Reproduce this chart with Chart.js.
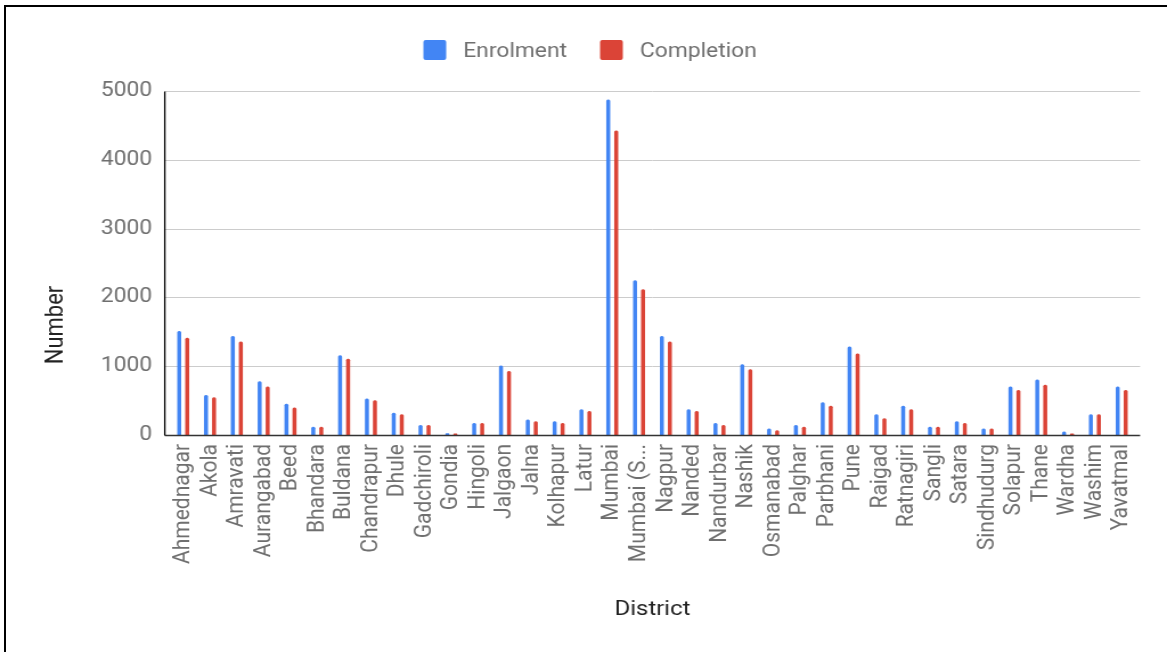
<!DOCTYPE html>
<html>
<head>
<meta charset="utf-8">
<title>Enrolment and Completion by District</title>
<script src="https://cdn.jsdelivr.net/npm/chart.js@4.4.1/dist/chart.umd.min.js"></script>
<style>
  html, body { margin: 0; padding: 0; background: #ffffff; width: 1167px; height: 652px; overflow: hidden; }
  /* chart is laid out at 1024px and widened to the 1167px page */
  #stage { position: absolute; left: 0; top: 0; width: 1024px; height: 652px; transform: scaleX(1.13965); transform-origin: 0 0; }
  #frame { position: absolute; left: 4px; top: 5px; width: 1300px; height: 800px; border-left: 2px solid #000; border-top: 2px solid #000; pointer-events: none; }
</style>
</head>
<body>
<div id="stage"><canvas id="chart" width="1024" height="652"></canvas></div>
<div id="frame"></div>
<script>
// District-wise enrolment and completion counts
const districts = [
  'Ahmednagar', 'Akola', 'Amravati', 'Aurangabad', 'Beed', 'Bhandara', 'Buldana',
  'Chandrapur', 'Dhule', 'Gadchiroli', 'Gondia', 'Hingoli', 'Jalgaon', 'Jalna',
  'Kolhapur', 'Latur', 'Mumbai', 'Mumbai (Suburban)', 'Nagpur', 'Nanded', 'Nandurbar',
  'Nashik', 'Osmanabad', 'Palghar', 'Parbhani', 'Pune', 'Raigad', 'Ratnagiri',
  'Sangli', 'Satara', 'Sindhudurg', 'Solapur', 'Thane', 'Wardha', 'Washim', 'Yavatmal'
];
const enrolment = [
  1510, 580, 1440, 780, 455, 120, 1160,
  530, 325, 145, 25, 175, 1010, 225,
  200, 375, 4875, 2250, 1440, 375, 175,
  1030, 95, 145, 475, 1285, 300, 425,
  120, 200, 95, 705, 805, 50, 300, 705
];
const completion = [
  1415, 550, 1360, 705, 400, 120, 1110,
  505, 300, 145, 20, 175, 930, 200,
  175, 350, 4425, 2120, 1360, 350, 145,
  955, 70, 120, 425, 1185, 245, 375,
  120, 175, 95, 655, 730, 20, 300, 655
];
const yTickValues = [0, 1000, 2000, 3000, 4000, 5000];
const seriesNames = ['Enrolment', 'Completion'];
const xTitle = 'District';
const yTitle = 'Number';

const BLUE = '#4285F4';
const RED = '#DB4437';
const TICK_GREY = '#6f6f6f';
const TITLE_DARK = '#222222';
const FONT = 'Roboto';

// Horizontal gridlines, baseline and vertical axis, reaching a little past the bar area
const axisLines = {
  id: 'axisLines',
  beforeDatasetsDraw(chart) {
    const { ctx, chartArea: a, scales: { y } } = chart;
    const left = a.left - 4.4, right = a.right + 4.4;
    ctx.save();
    ctx.lineWidth = 1;
    ctx.strokeStyle = '#cccccc';
    yTickValues.forEach(v => {
      if (v === 0) return;
      const py = Math.round(y.getPixelForValue(v)) + 0.5;
      ctx.beginPath();
      ctx.moveTo(left, py);
      ctx.lineTo(right, py);
      ctx.stroke();
    });
    ctx.restore();
  },
  afterDatasetsDraw(chart) {
    const { ctx, chartArea: a, scales: { y } } = chart;
    const left = a.left - 4.4, right = a.right + 4.4;
    const py0 = Math.round(y.getPixelForValue(0)) + 0.5;
    const pyTop = Math.round(y.getPixelForValue(yTickValues[yTickValues.length - 1])) + 0.5;
    ctx.save();
    ctx.strokeStyle = '#333333';
    ctx.lineWidth = 1.4;
    ctx.beginPath();
    ctx.moveTo(left, py0);
    ctx.lineTo(right, py0);
    ctx.stroke();
    ctx.strokeStyle = '#000000';
    ctx.lineWidth = 1.3;
    ctx.beginPath();
    ctx.moveTo(left, pyTop);
    ctx.lineTo(left, py0);
    ctx.stroke();
    ctx.restore();
  }
};

// Legend row and the vertical axis title
const legendAndTitle = {
  id: 'legendAndTitle',
  afterDraw(chart) {
    const { ctx } = chart;
    ctx.save();
    ctx.font = '20px ' + FONT;
    ctx.textBaseline = 'alphabetic';
    ctx.textAlign = 'left';
    let x = 371.5;
    chart.data.datasets.forEach(ds => {
      ctx.fillStyle = ds.backgroundColor;
      ctx.beginPath();
      ctx.roundRect(x, 40, 20, 20, 2);
      ctx.fill();
      ctx.fillStyle = TICK_GREY;
      ctx.fillText(ds.label, x + 35, 57);
      x += 35 + ctx.measureText(ds.label).width + 29;
    });

    ctx.font = '22px ' + FONT;
    ctx.fillStyle = TITLE_DARK;
    ctx.textAlign = 'center';
    ctx.translate(55, 325);
    ctx.rotate(-Math.PI / 2);
    ctx.fillText(yTitle, 0, 0);
    ctx.restore();
  }
};

new Chart(document.getElementById('chart'), {
  type: 'bar',
  data: {
    labels: districts,
    datasets: [
      {
        label: seriesNames[0],
        data: enrolment,
        backgroundColor: BLUE,
        borderRadius: { topLeft: 1.5, topRight: 1.5 },
        borderSkipped: 'bottom',
        categoryPercentage: 0.597,
        barPercentage: 0.5
      },
      {
        label: seriesNames[1],
        data: completion,
        backgroundColor: RED,
        borderRadius: { topLeft: 1.5, topRight: 1.5 },
        borderSkipped: 'bottom',
        categoryPercentage: 0.597,
        barPercentage: 0.5
      }
    ]
  },
  options: {
    responsive: false,
    animation: false,
    devicePixelRatio: 1,
    layout: { padding: { top: 91, right: 28, bottom: 0, left: 0 } },
    plugins: {
      legend: { display: false },
      tooltip: { enabled: false },
      title: { display: false }
    },
    scales: {
      x: {
        type: 'category',
        offset: true,
        grid: { display: false, drawTicks: false },
        border: { display: false },
        ticks: {
          autoSkip: false,
          maxRotation: 90,
          minRotation: 90,
          padding: 9,
          color: TICK_GREY,
          font: { family: FONT, size: 21 },
          callback(value) {
            const s = this.getLabelForValue(value);
            return s.length > 12 ? s.slice(0, 9) + '...' : s;
          }
        },
        title: {
          display: true,
          text: xTitle,
          color: TITLE_DARK,
          font: { family: FONT, size: 21, lineHeight: 1.2 },
          padding: { top: 0, bottom: 30 }
        },
        afterFit(scale) { scale.height = 217; }
      },
      y: {
        min: 0,
        max: 5000,
        grid: { display: false, drawTicks: false },
        border: { display: false },
        ticks: {
          stepSize: 1000,
          padding: 15.6,
          color: TICK_GREY,
          font: { family: FONT, size: 20 },
          callback(value) { return String(value); }
        },
        afterFit(scale) { scale.width = 149; }
      }
    }
  },
  plugins: [axisLines, legendAndTitle]
});
</script>
</body>
</html>
